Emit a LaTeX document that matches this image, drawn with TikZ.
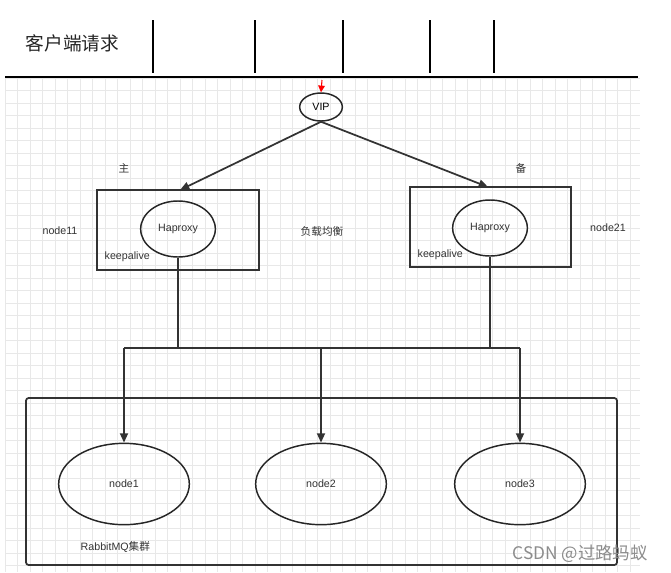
\documentclass[tikz,border=0pt]{standalone}
\usepackage{fontspec}
\setmainfont{Liberation Sans}
\newfontfamily\cjk{Noto Sans CJK SC}
\usetikzlibrary{arrows.meta,shapes.geometric}
\begin{document}
\begin{tikzpicture}[x=0.75pt,y=-0.75pt,
  ln/.style={draw=black!80,line width=1.3pt},
  arr/.style={ln,-{Triangle[length=7pt,width=6pt]}},
  ell/.style={ellipse,draw=black!85,line width=1.1pt,minimum width=#1},
  lbl/.style={font=\fontsize{8}{9}\selectfont,text=black!80}]
\useasboundingbox (0,0) rectangle (671,572);
\fill[white] (0,0) rectangle (671,572);
\foreach \x in {5,17.5,...,640} \draw[black!9,line width=0.4pt] (\x,78) -- (\x,572);
\foreach \y in {78,90.5,...,572} \draw[black!9,line width=0.4pt] (5,\y) -- (640,\y);
\node[font=\cjk\fontsize{14}{15}\selectfont,anchor=west,text=black!85] (title) at (21,43) {客户端请求};
\foreach \x in {153,255,343,430,494} \draw[line width=1.8pt] (\x,20) -- (\x,73);
\draw[line width=2.2pt] (5,77) -- (638,77);
\coordinate (top) at (322,80);
\node[ell=32pt,minimum height=21pt,inner sep=0pt,font=\fontsize{8}{9}\selectfont] (vip) at (321,107) {VIP};
\draw[red,line width=0.8pt,-{Triangle[length=5pt,width=5pt]}] (top) -- (vip.north);
\draw[ln] (97,190) rectangle (259,270);
\draw[ln] (410,187) rectangle (571,267);
\node[ell=56pt,minimum height=42pt,inner sep=0pt,lbl] (h1) at (178,229) {Haproxy};
\node[ell=56pt,minimum height=42pt,inner sep=0pt,lbl] (h2) at (490,228) {Haproxy};
\coordinate (b1) at (180,190); \coordinate (b2) at (488,187);
\draw[arr] (vip.south) -- (b1);
\draw[arr] (vip.south) -- (b2);
\node[lbl,anchor=west] (k1) at (100,257) {keepalive};
\node[lbl,anchor=west] (k2) at (413,255) {keepalive};
\node[lbl,font=\cjk\fontsize{8}{9}\selectfont] (zhu) at (124,168) {主};
\node[lbl,font=\cjk\fontsize{8}{9}\selectfont] (bei) at (521,168) {备};
\node[lbl] (n11) at (60,231) {node11};
\node[lbl] (n21) at (608,228) {node21};
\node[lbl,font=\cjk\fontsize{8}{9}\selectfont] (fz) at (322,231) {负载均衡};
\coordinate (j1) at (178,348); \coordinate (j2) at (490,348);
\coordinate (l) at (124,348); \coordinate (m) at (321,348); \coordinate (r) at (520,348);
\draw[ln] (h1.south) -- (j1);
\draw[ln] (h2.south) -- (j2);
\draw[ln] (l) -- (r);
\draw[ln,rounded corners=2pt] (26,398) rectangle (617,565);
\node[ell=98pt,minimum height=61pt,inner sep=0pt,lbl] (n1) at (124,484) {node1};
\node[ell=98pt,minimum height=61pt,inner sep=0pt,lbl] (n2) at (321,484) {node2};
\node[ell=98pt,minimum height=61pt,inner sep=0pt,lbl] (n3) at (520,484) {node3};
\draw[arr] (l) -- (n1.north);
\draw[arr] (m) -- (n2.north);
\draw[arr] (r) -- (n3.north);
\node[lbl,anchor=west] (rq) at (76,547) {RabbitMQ\cjk 集群};
\node[font=\cjk\fontsize{13}{14}\selectfont,text=black!45] (wm) at (580,554) {CSDN @过路蚂蚁};
\end{tikzpicture}
\end{document}
